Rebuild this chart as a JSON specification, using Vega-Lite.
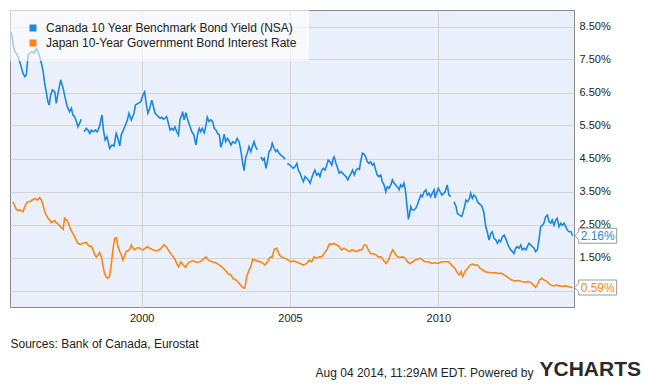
{
  "$schema": "https://vega.github.io/schema/vega-lite/v6.json",
  "width": 564,
  "height": 297,
  "autosize": {"type": "none"},
  "padding": {"left": 10, "top": 10, "right": 76, "bottom": 77},
  "background": "white",
  "title": {"text": "YCHARTS", "orient": "bottom", "anchor": "end", "frame": "group", "fontSize": 21, "fontWeight": "bold", "color": "#2a2a2a", "font": "Liberation Sans", "dx": 67, "dy": -23},
  "config": {
    "font": "Liberation Sans",
    "view": {"fill": "#EAF0FB", "stroke": "#8a8a8a", "strokeWidth": 1},
    "axis": {"labelOverlap": false},
    "axisY": {"labelOverlap": false},
    "legend": {
      "orient": "top-left", "offset": 0, "padding": 12, "symbolOffset": 5,
      "fillColor": "rgba(255,255,255,0.6)", "symbolType": "square", "symbolSize": 49,
      "labelFontSize": 12, "labelColor": "#222", "labelOffset": 7, "rowPadding": 3,
      "labelLimit": 400, "title": null
    }
  },
  "data": {"values": [
    {"series":"Canada","year":1995.60,"rate":8.34},{"series":"Canada","year":1995.66,"rate":7.99},{"series":"Canada","year":1995.72,"rate":7.74},{"series":"Canada","year":1995.77,"rate":7.69},{"series":"Canada","year":1995.83,"rate":7.59},{"series":"Canada","year":1995.92,"rate":7.33},{"series":"Canada","year":1996.00,"rate":7.08},{"series":"Canada","year":1996.06,"rate":6.98},{"series":"Canada","year":1996.11,"rate":7.03},{"series":"Canada","year":1996.17,"rate":7.64},{"series":"Canada","year":1996.22,"rate":7.69},{"series":"Canada","year":1996.30,"rate":7.74},{"series":"Canada","year":1996.37,"rate":7.69},{"series":"Canada","year":1996.45,"rate":7.84},{"series":"Canada","year":1996.50,"rate":7.74},{"series":"Canada","year":1996.56,"rate":7.59},{"series":"Canada","year":1996.62,"rate":7.38},{"series":"Canada","year":1996.67,"rate":7.18},{"series":"Canada","year":1996.73,"rate":6.78},{"series":"Canada","year":1996.78,"rate":6.52},{"series":"Canada","year":1996.84,"rate":6.22},{"series":"Canada","year":1996.88,"rate":6.12},{"series":"Canada","year":1996.93,"rate":6.42},{"series":"Canada","year":1996.99,"rate":6.58},{"series":"Canada","year":1997.07,"rate":6.52},{"series":"Canada","year":1997.12,"rate":6.17},{"series":"Canada","year":1997.18,"rate":6.48},{"series":"Canada","year":1997.27,"rate":6.88},{"series":"Canada","year":1997.35,"rate":6.63},{"series":"Canada","year":1997.40,"rate":6.42},{"series":"Canada","year":1997.49,"rate":6.07},{"series":"Canada","year":1997.57,"rate":5.92},{"series":"Canada","year":1997.63,"rate":6.02},{"series":"Canada","year":1997.68,"rate":5.82},{"series":"Canada","year":1997.74,"rate":5.77},{"series":"Canada","year":1997.80,"rate":5.62},{"series":"Canada","year":1997.85,"rate":5.46},{"series":"Canada","year":1997.91,"rate":5.57},{"series":"Canada","year":1997.96,"rate":5.69},{"series":"Canada","year":1998.02,"rate":null},{"series":"Canada","year":1998.06,"rate":5.31},{"series":"Canada","year":1998.13,"rate":5.41},{"series":"Canada","year":1998.19,"rate":5.36},{"series":"Canada","year":1998.25,"rate":5.26},{"series":"Canada","year":1998.30,"rate":5.36},{"series":"Canada","year":1998.36,"rate":5.31},{"series":"Canada","year":1998.44,"rate":5.36},{"series":"Canada","year":1998.50,"rate":5.31},{"series":"Canada","year":1998.58,"rate":5.48},{"series":"Canada","year":1998.66,"rate":5.82},{"series":"Canada","year":1998.71,"rate":5.36},{"series":"Canada","year":1998.77,"rate":5.06},{"series":"Canada","year":1998.83,"rate":5.16},{"series":"Canada","year":1998.92,"rate":4.81},{"series":"Canada","year":1999.00,"rate":4.91},{"series":"Canada","year":1999.07,"rate":4.88},{"series":"Canada","year":1999.14,"rate":5.26},{"series":"Canada","year":1999.20,"rate":5.11},{"series":"Canada","year":1999.26,"rate":4.88},{"series":"Canada","year":1999.31,"rate":5.21},{"series":"Canada","year":1999.43,"rate":5.46},{"series":"Canada","year":1999.52,"rate":5.67},{"series":"Canada","year":1999.57,"rate":5.87},{"series":"Canada","year":1999.65,"rate":5.67},{"series":"Canada","year":1999.74,"rate":5.87},{"series":"Canada","year":1999.79,"rate":6.12},{"series":"Canada","year":1999.88,"rate":6.17},{"series":"Canada","year":1999.97,"rate":6.22},{"series":"Canada","year":2000.04,"rate":6.42},{"series":"Canada","year":2000.10,"rate":6.52},{"series":"Canada","year":2000.16,"rate":6.12},{"series":"Canada","year":2000.21,"rate":5.87},{"series":"Canada","year":2000.27,"rate":6.02},{"series":"Canada","year":2000.34,"rate":6.27},{"series":"Canada","year":2000.45,"rate":5.87},{"series":"Canada","year":2000.51,"rate":5.82},{"series":"Canada","year":2000.56,"rate":5.77},{"series":"Canada","year":2000.62,"rate":5.72},{"series":"Canada","year":2000.68,"rate":5.75},{"series":"Canada","year":2000.73,"rate":5.69},{"series":"Canada","year":2000.79,"rate":5.72},{"series":"Canada","year":2000.84,"rate":5.77},{"series":"Canada","year":2000.90,"rate":5.57},{"series":"Canada","year":2000.96,"rate":5.36},{"series":"Canada","year":2001.01,"rate":5.41},{"series":"Canada","year":2001.07,"rate":5.36},{"series":"Canada","year":2001.12,"rate":5.46},{"series":"Canada","year":2001.18,"rate":5.31},{"series":"Canada","year":2001.24,"rate":5.21},{"series":"Canada","year":2001.29,"rate":5.67},{"series":"Canada","year":2001.35,"rate":5.82},{"series":"Canada","year":2001.38,"rate":5.92},{"series":"Canada","year":2001.43,"rate":5.67},{"series":"Canada","year":2001.49,"rate":5.89},{"series":"Canada","year":2001.55,"rate":5.67},{"series":"Canada","year":2001.61,"rate":5.52},{"series":"Canada","year":2001.69,"rate":5.31},{"series":"Canada","year":2001.76,"rate":5.21},{"series":"Canada","year":2001.83,"rate":4.91},{"series":"Canada","year":2001.88,"rate":5.21},{"series":"Canada","year":2001.94,"rate":5.41},{"series":"Canada","year":2001.99,"rate":5.31},{"series":"Canada","year":2002.04,"rate":5.41},{"series":"Canada","year":2002.11,"rate":5.28},{"series":"Canada","year":2002.17,"rate":5.52},{"series":"Canada","year":2002.21,"rate":5.75},{"series":"Canada","year":2002.27,"rate":5.62},{"series":"Canada","year":2002.33,"rate":5.67},{"series":"Canada","year":2002.39,"rate":5.62},{"series":"Canada","year":2002.45,"rate":5.41},{"series":"Canada","year":2002.51,"rate":5.36},{"series":"Canada","year":2002.56,"rate":5.26},{"series":"Canada","year":2002.62,"rate":5.21},{"series":"Canada","year":2002.67,"rate":4.84},{"series":"Canada","year":2002.73,"rate":5.01},{"series":"Canada","year":2002.78,"rate":5.24},{"series":"Canada","year":2002.83,"rate":5.01},{"series":"Canada","year":2002.89,"rate":5.11},{"series":"Canada","year":2002.94,"rate":5.04},{"series":"Canada","year":2003.01,"rate":4.91},{"series":"Canada","year":2003.07,"rate":5.01},{"series":"Canada","year":2003.15,"rate":4.96},{"series":"Canada","year":2003.22,"rate":5.11},{"series":"Canada","year":2003.28,"rate":5.01},{"series":"Canada","year":2003.34,"rate":4.76},{"series":"Canada","year":2003.39,"rate":4.45},{"series":"Canada","year":2003.45,"rate":4.13},{"series":"Canada","year":2003.51,"rate":4.55},{"series":"Canada","year":2003.56,"rate":4.66},{"series":"Canada","year":2003.62,"rate":4.86},{"series":"Canada","year":2003.68,"rate":4.71},{"series":"Canada","year":2003.73,"rate":4.86},{"series":"Canada","year":2003.79,"rate":5.01},{"series":"Canada","year":2003.84,"rate":4.86},{"series":"Canada","year":2003.90,"rate":4.76},{"series":"Canada","year":2003.96,"rate":null},{"series":"Canada","year":2004.02,"rate":4.55},{"series":"Canada","year":2004.08,"rate":4.45},{"series":"Canada","year":2004.13,"rate":4.51},{"series":"Canada","year":2004.19,"rate":4.20},{"series":"Canada","year":2004.24,"rate":4.40},{"series":"Canada","year":2004.29,"rate":4.71},{"series":"Canada","year":2004.35,"rate":4.76},{"series":"Canada","year":2004.40,"rate":4.96},{"series":"Canada","year":2004.46,"rate":4.81},{"series":"Canada","year":2004.52,"rate":4.71},{"series":"Canada","year":2004.57,"rate":4.76},{"series":"Canada","year":2004.63,"rate":4.66},{"series":"Canada","year":2004.69,"rate":4.61},{"series":"Canada","year":2004.77,"rate":4.55},{"series":"Canada","year":2004.83,"rate":4.48},{"series":"Canada","year":2004.87,"rate":null},{"series":"Canada","year":2004.91,"rate":4.35},{"series":"Canada","year":2005.00,"rate":4.30},{"series":"Canada","year":2005.06,"rate":4.25},{"series":"Canada","year":2005.11,"rate":4.20},{"series":"Canada","year":2005.17,"rate":4.25},{"series":"Canada","year":2005.23,"rate":4.35},{"series":"Canada","year":2005.28,"rate":4.15},{"series":"Canada","year":2005.34,"rate":4.05},{"series":"Canada","year":2005.40,"rate":3.90},{"series":"Canada","year":2005.45,"rate":3.80},{"series":"Canada","year":2005.51,"rate":3.95},{"series":"Canada","year":2005.56,"rate":3.90},{"series":"Canada","year":2005.62,"rate":3.85},{"series":"Canada","year":2005.68,"rate":3.75},{"series":"Canada","year":2005.73,"rate":3.90},{"series":"Canada","year":2005.79,"rate":4.05},{"series":"Canada","year":2005.84,"rate":4.15},{"series":"Canada","year":2005.90,"rate":4.00},{"series":"Canada","year":2005.96,"rate":4.05},{"series":"Canada","year":2006.01,"rate":3.95},{"series":"Canada","year":2006.07,"rate":4.15},{"series":"Canada","year":2006.12,"rate":4.20},{"series":"Canada","year":2006.18,"rate":4.15},{"series":"Canada","year":2006.24,"rate":4.30},{"series":"Canada","year":2006.29,"rate":4.45},{"series":"Canada","year":2006.35,"rate":4.40},{"series":"Canada","year":2006.41,"rate":4.30},{"series":"Canada","year":2006.46,"rate":4.51},{"series":"Canada","year":2006.49,"rate":4.55},{"series":"Canada","year":2006.55,"rate":4.35},{"series":"Canada","year":2006.61,"rate":4.20},{"series":"Canada","year":2006.66,"rate":4.05},{"series":"Canada","year":2006.72,"rate":4.10},{"series":"Canada","year":2006.78,"rate":4.05},{"series":"Canada","year":2006.83,"rate":4.00},{"series":"Canada","year":2006.89,"rate":3.95},{"series":"Canada","year":2006.95,"rate":3.85},{"series":"Canada","year":2007.00,"rate":3.95},{"series":"Canada","year":2007.06,"rate":4.05},{"series":"Canada","year":2007.11,"rate":4.15},{"series":"Canada","year":2007.17,"rate":4.00},{"series":"Canada","year":2007.23,"rate":4.15},{"series":"Canada","year":2007.28,"rate":4.20},{"series":"Canada","year":2007.34,"rate":4.17},{"series":"Canada","year":2007.38,"rate":4.40},{"series":"Canada","year":2007.44,"rate":4.66},{"series":"Canada","year":2007.50,"rate":4.63},{"series":"Canada","year":2007.55,"rate":4.55},{"series":"Canada","year":2007.61,"rate":4.40},{"series":"Canada","year":2007.66,"rate":4.35},{"series":"Canada","year":2007.72,"rate":4.40},{"series":"Canada","year":2007.78,"rate":4.30},{"series":"Canada","year":2007.83,"rate":4.35},{"series":"Canada","year":2007.89,"rate":4.15},{"series":"Canada","year":2007.94,"rate":4.00},{"series":"Canada","year":2008.00,"rate":3.95},{"series":"Canada","year":2008.06,"rate":4.00},{"series":"Canada","year":2008.11,"rate":3.80},{"series":"Canada","year":2008.17,"rate":3.70},{"series":"Canada","year":2008.23,"rate":3.49},{"series":"Canada","year":2008.28,"rate":3.64},{"series":"Canada","year":2008.34,"rate":3.60},{"series":"Canada","year":2008.40,"rate":3.70},{"series":"Canada","year":2008.45,"rate":3.85},{"series":"Canada","year":2008.51,"rate":3.75},{"series":"Canada","year":2008.56,"rate":3.70},{"series":"Canada","year":2008.62,"rate":3.64},{"series":"Canada","year":2008.68,"rate":3.55},{"series":"Canada","year":2008.73,"rate":3.70},{"series":"Canada","year":2008.79,"rate":3.64},{"series":"Canada","year":2008.84,"rate":3.75},{"series":"Canada","year":2008.89,"rate":3.55},{"series":"Canada","year":2008.94,"rate":3.09},{"series":"Canada","year":2008.99,"rate":2.69},{"series":"Canada","year":2009.02,"rate":2.74},{"series":"Canada","year":2009.07,"rate":3.04},{"series":"Canada","year":2009.12,"rate":2.94},{"series":"Canada","year":2009.18,"rate":2.94},{"series":"Canada","year":2009.24,"rate":2.99},{"series":"Canada","year":2009.29,"rate":3.09},{"series":"Canada","year":2009.35,"rate":3.24},{"series":"Canada","year":2009.41,"rate":3.39},{"series":"Canada","year":2009.46,"rate":3.34},{"series":"Canada","year":2009.52,"rate":3.49},{"series":"Canada","year":2009.58,"rate":3.55},{"series":"Canada","year":2009.63,"rate":3.39},{"series":"Canada","year":2009.69,"rate":3.45},{"series":"Canada","year":2009.74,"rate":3.34},{"series":"Canada","year":2009.80,"rate":3.45},{"series":"Canada","year":2009.86,"rate":3.55},{"series":"Canada","year":2009.89,"rate":3.30},{"series":"Canada","year":2010.00,"rate":3.60},{"series":"Canada","year":2010.12,"rate":3.39},{"series":"Canada","year":2010.23,"rate":3.49},{"series":"Canada","year":2010.30,"rate":3.70},{"series":"Canada","year":2010.36,"rate":3.39},{"series":"Canada","year":2010.42,"rate":3.34},{"series":"Canada","year":2010.47,"rate":null},{"series":"Canada","year":2010.53,"rate":3.19},{"series":"Canada","year":2010.60,"rate":3.04},{"series":"Canada","year":2010.64,"rate":2.84},{"series":"Canada","year":2010.71,"rate":2.79},{"series":"Canada","year":2010.79,"rate":2.74},{"series":"Canada","year":2010.84,"rate":2.89},{"series":"Canada","year":2010.90,"rate":3.09},{"series":"Canada","year":2010.93,"rate":3.24},{"series":"Canada","year":2010.99,"rate":3.19},{"series":"Canada","year":2011.05,"rate":3.29},{"series":"Canada","year":2011.09,"rate":3.45},{"series":"Canada","year":2011.15,"rate":3.29},{"series":"Canada","year":2011.20,"rate":3.39},{"series":"Canada","year":2011.26,"rate":3.34},{"series":"Canada","year":2011.32,"rate":3.19},{"series":"Canada","year":2011.37,"rate":3.14},{"series":"Canada","year":2011.43,"rate":3.09},{"series":"Canada","year":2011.48,"rate":3.04},{"series":"Canada","year":2011.54,"rate":2.84},{"series":"Canada","year":2011.60,"rate":2.43},{"series":"Canada","year":2011.65,"rate":2.28},{"series":"Canada","year":2011.71,"rate":2.03},{"series":"Canada","year":2011.77,"rate":2.23},{"series":"Canada","year":2011.82,"rate":2.28},{"series":"Canada","year":2011.88,"rate":2.08},{"series":"Canada","year":2011.94,"rate":2.03},{"series":"Canada","year":2011.99,"rate":1.93},{"series":"Canada","year":2012.05,"rate":2.03},{"series":"Canada","year":2012.10,"rate":1.98},{"series":"Canada","year":2012.16,"rate":2.13},{"series":"Canada","year":2012.22,"rate":2.18},{"series":"Canada","year":2012.27,"rate":2.08},{"series":"Canada","year":2012.33,"rate":1.93},{"series":"Canada","year":2012.38,"rate":1.83},{"series":"Canada","year":2012.44,"rate":1.73},{"series":"Canada","year":2012.50,"rate":1.68},{"series":"Canada","year":2012.55,"rate":1.62},{"series":"Canada","year":2012.61,"rate":1.78},{"series":"Canada","year":2012.66,"rate":1.83},{"series":"Canada","year":2012.72,"rate":1.78},{"series":"Canada","year":2012.78,"rate":1.88},{"series":"Canada","year":2012.83,"rate":1.73},{"series":"Canada","year":2012.89,"rate":1.78},{"series":"Canada","year":2012.95,"rate":1.73},{"series":"Canada","year":2013.00,"rate":1.83},{"series":"Canada","year":2013.06,"rate":1.93},{"series":"Canada","year":2013.12,"rate":1.88},{"series":"Canada","year":2013.17,"rate":1.83},{"series":"Canada","year":2013.23,"rate":1.78},{"series":"Canada","year":2013.28,"rate":1.68},{"series":"Canada","year":2013.34,"rate":1.73},{"series":"Canada","year":2013.40,"rate":2.08},{"series":"Canada","year":2013.45,"rate":2.43},{"series":"Canada","year":2013.51,"rate":2.48},{"series":"Canada","year":2013.56,"rate":2.54},{"series":"Canada","year":2013.62,"rate":2.74},{"series":"Canada","year":2013.68,"rate":2.79},{"series":"Canada","year":2013.73,"rate":2.59},{"series":"Canada","year":2013.79,"rate":2.54},{"series":"Canada","year":2013.84,"rate":2.64},{"series":"Canada","year":2013.90,"rate":2.48},{"series":"Canada","year":2013.96,"rate":2.64},{"series":"Canada","year":2014.01,"rate":2.69},{"series":"Canada","year":2014.07,"rate":2.43},{"series":"Canada","year":2014.13,"rate":2.54},{"series":"Canada","year":2014.18,"rate":2.48},{"series":"Canada","year":2014.24,"rate":2.54},{"series":"Canada","year":2014.30,"rate":2.43},{"series":"Canada","year":2014.35,"rate":2.33},{"series":"Canada","year":2014.41,"rate":2.28},{"series":"Canada","year":2014.47,"rate":2.28},{"series":"Canada","year":2014.53,"rate":2.16},
    {"series":"Japan","year":1995.66,"rate":3.19},{"series":"Japan","year":1995.72,"rate":3.06},{"series":"Japan","year":1995.77,"rate":2.96},{"series":"Japan","year":1995.83,"rate":2.92},{"series":"Japan","year":1995.89,"rate":2.94},{"series":"Japan","year":1995.94,"rate":2.92},{"series":"Japan","year":1996.00,"rate":2.89},{"series":"Japan","year":1996.06,"rate":3.04},{"series":"Japan","year":1996.11,"rate":3.14},{"series":"Japan","year":1996.17,"rate":3.19},{"series":"Japan","year":1996.22,"rate":3.19},{"series":"Japan","year":1996.28,"rate":3.22},{"series":"Japan","year":1996.34,"rate":3.26},{"series":"Japan","year":1996.41,"rate":3.29},{"series":"Japan","year":1996.48,"rate":3.24},{"series":"Japan","year":1996.56,"rate":3.32},{"series":"Japan","year":1996.62,"rate":3.24},{"series":"Japan","year":1996.67,"rate":3.09},{"series":"Japan","year":1996.73,"rate":2.89},{"series":"Japan","year":1996.78,"rate":2.79},{"series":"Japan","year":1996.84,"rate":2.69},{"series":"Japan","year":1996.90,"rate":2.64},{"series":"Japan","year":1996.95,"rate":2.55},{"series":"Japan","year":1997.01,"rate":2.59},{"series":"Japan","year":1997.07,"rate":2.62},{"series":"Japan","year":1997.12,"rate":2.55},{"series":"Japan","year":1997.18,"rate":2.52},{"series":"Japan","year":1997.24,"rate":2.45},{"series":"Japan","year":1997.29,"rate":2.41},{"series":"Japan","year":1997.35,"rate":2.35},{"series":"Japan","year":1997.40,"rate":2.69},{"series":"Japan","year":1997.46,"rate":2.64},{"series":"Japan","year":1997.53,"rate":2.54},{"series":"Japan","year":1997.57,"rate":2.43},{"series":"Japan","year":1997.63,"rate":2.31},{"series":"Japan","year":1997.68,"rate":2.23},{"series":"Japan","year":1997.74,"rate":2.13},{"series":"Japan","year":1997.80,"rate":2.00},{"series":"Japan","year":1997.85,"rate":1.93},{"series":"Japan","year":1997.91,"rate":1.90},{"series":"Japan","year":1997.96,"rate":1.90},{"series":"Japan","year":1998.02,"rate":1.93},{"series":"Japan","year":1998.08,"rate":1.95},{"series":"Japan","year":1998.13,"rate":1.96},{"series":"Japan","year":1998.19,"rate":1.88},{"series":"Japan","year":1998.25,"rate":1.83},{"series":"Japan","year":1998.30,"rate":1.85},{"series":"Japan","year":1998.36,"rate":1.73},{"series":"Japan","year":1998.42,"rate":1.58},{"series":"Japan","year":1998.47,"rate":1.51},{"series":"Japan","year":1998.53,"rate":1.58},{"series":"Japan","year":1998.58,"rate":1.65},{"series":"Japan","year":1998.64,"rate":1.52},{"series":"Japan","year":1998.70,"rate":1.22},{"series":"Japan","year":1998.75,"rate":1.00},{"series":"Japan","year":1998.81,"rate":0.90},{"series":"Japan","year":1998.86,"rate":0.87},{"series":"Japan","year":1998.92,"rate":0.94},{"series":"Japan","year":1998.98,"rate":1.32},{"series":"Japan","year":1999.03,"rate":1.73},{"series":"Japan","year":1999.09,"rate":2.08},{"series":"Japan","year":1999.14,"rate":2.10},{"series":"Japan","year":1999.20,"rate":1.83},{"series":"Japan","year":1999.26,"rate":1.68},{"series":"Japan","year":1999.31,"rate":1.58},{"series":"Japan","year":1999.37,"rate":1.42},{"series":"Japan","year":1999.43,"rate":1.58},{"series":"Japan","year":1999.48,"rate":1.68},{"series":"Japan","year":1999.54,"rate":1.71},{"series":"Japan","year":1999.60,"rate":1.75},{"series":"Japan","year":1999.65,"rate":1.88},{"series":"Japan","year":1999.71,"rate":1.78},{"series":"Japan","year":1999.76,"rate":1.73},{"series":"Japan","year":1999.82,"rate":1.78},{"series":"Japan","year":1999.90,"rate":1.80},{"series":"Japan","year":1999.97,"rate":1.75},{"series":"Japan","year":2000.04,"rate":1.73},{"series":"Japan","year":2000.12,"rate":1.78},{"series":"Japan","year":2000.19,"rate":1.83},{"series":"Japan","year":2000.27,"rate":1.78},{"series":"Japan","year":2000.39,"rate":1.73},{"series":"Japan","year":2000.51,"rate":1.70},{"series":"Japan","year":2000.62,"rate":1.75},{"series":"Japan","year":2000.75,"rate":1.88},{"series":"Japan","year":2000.84,"rate":1.81},{"series":"Japan","year":2000.93,"rate":1.68},{"series":"Japan","year":2001.01,"rate":1.58},{"series":"Japan","year":2001.12,"rate":1.45},{"series":"Japan","year":2001.18,"rate":1.32},{"series":"Japan","year":2001.24,"rate":1.22},{"series":"Japan","year":2001.32,"rate":1.37},{"series":"Japan","year":2001.40,"rate":1.27},{"series":"Japan","year":2001.48,"rate":1.20},{"series":"Japan","year":2001.55,"rate":1.32},{"series":"Japan","year":2001.63,"rate":1.37},{"series":"Japan","year":2001.74,"rate":1.40},{"series":"Japan","year":2001.85,"rate":1.35},{"series":"Japan","year":2001.97,"rate":1.37},{"series":"Japan","year":2002.08,"rate":1.45},{"series":"Japan","year":2002.16,"rate":1.52},{"series":"Japan","year":2002.25,"rate":1.42},{"series":"Japan","year":2002.36,"rate":1.37},{"series":"Japan","year":2002.47,"rate":1.35},{"series":"Japan","year":2002.58,"rate":1.30},{"series":"Japan","year":2002.70,"rate":1.22},{"series":"Japan","year":2002.81,"rate":1.12},{"series":"Japan","year":2002.92,"rate":1.00},{"series":"Japan","year":2003.01,"rate":0.97},{"series":"Japan","year":2003.09,"rate":0.85},{"series":"Japan","year":2003.18,"rate":0.82},{"series":"Japan","year":2003.26,"rate":0.74},{"series":"Japan","year":2003.34,"rate":0.66},{"series":"Japan","year":2003.41,"rate":0.58},{"series":"Japan","year":2003.48,"rate":0.57},{"series":"Japan","year":2003.54,"rate":0.92},{"series":"Japan","year":2003.62,"rate":1.12},{"series":"Japan","year":2003.68,"rate":1.22},{"series":"Japan","year":2003.74,"rate":1.45},{"series":"Japan","year":2003.82,"rate":1.42},{"series":"Japan","year":2003.93,"rate":1.39},{"series":"Japan","year":2004.05,"rate":1.35},{"series":"Japan","year":2004.16,"rate":1.27},{"series":"Japan","year":2004.24,"rate":1.37},{"series":"Japan","year":2004.33,"rate":1.51},{"series":"Japan","year":2004.40,"rate":1.51},{"series":"Japan","year":2004.47,"rate":1.75},{"series":"Japan","year":2004.55,"rate":1.78},{"series":"Japan","year":2004.64,"rate":1.58},{"series":"Japan","year":2004.72,"rate":1.51},{"series":"Japan","year":2004.83,"rate":1.48},{"series":"Japan","year":2004.94,"rate":1.42},{"series":"Japan","year":2005.02,"rate":1.37},{"series":"Japan","year":2005.11,"rate":1.40},{"series":"Japan","year":2005.34,"rate":1.32},{"series":"Japan","year":2005.45,"rate":1.27},{"series":"Japan","year":2005.56,"rate":1.32},{"series":"Japan","year":2005.65,"rate":1.42},{"series":"Japan","year":2005.73,"rate":1.37},{"series":"Japan","year":2005.81,"rate":1.52},{"series":"Japan","year":2005.90,"rate":1.48},{"series":"Japan","year":2005.99,"rate":1.52},{"series":"Japan","year":2006.07,"rate":1.52},{"series":"Japan","year":2006.15,"rate":1.62},{"series":"Japan","year":2006.24,"rate":1.73},{"series":"Japan","year":2006.33,"rate":1.91},{"series":"Japan","year":2006.41,"rate":1.90},{"series":"Japan","year":2006.48,"rate":1.93},{"series":"Japan","year":2006.57,"rate":1.88},{"series":"Japan","year":2006.66,"rate":1.83},{"series":"Japan","year":2006.74,"rate":1.73},{"series":"Japan","year":2006.82,"rate":1.78},{"series":"Japan","year":2006.91,"rate":1.73},{"series":"Japan","year":2007.00,"rate":1.68},{"series":"Japan","year":2007.08,"rate":1.73},{"series":"Japan","year":2007.16,"rate":1.71},{"series":"Japan","year":2007.25,"rate":1.68},{"series":"Japan","year":2007.34,"rate":1.73},{"series":"Japan","year":2007.42,"rate":1.73},{"series":"Japan","year":2007.50,"rate":1.88},{"series":"Japan","year":2007.56,"rate":1.88},{"series":"Japan","year":2007.64,"rate":1.73},{"series":"Japan","year":2007.72,"rate":1.62},{"series":"Japan","year":2007.81,"rate":1.61},{"series":"Japan","year":2007.90,"rate":1.58},{"series":"Japan","year":2007.98,"rate":1.52},{"series":"Japan","year":2008.06,"rate":1.52},{"series":"Japan","year":2008.15,"rate":1.42},{"series":"Japan","year":2008.24,"rate":1.32},{"series":"Japan","year":2008.32,"rate":1.42},{"series":"Japan","year":2008.40,"rate":1.62},{"series":"Japan","year":2008.46,"rate":1.73},{"series":"Japan","year":2008.54,"rate":1.62},{"series":"Japan","year":2008.62,"rate":1.52},{"series":"Japan","year":2008.71,"rate":1.51},{"series":"Japan","year":2008.80,"rate":1.52},{"series":"Japan","year":2008.88,"rate":1.48},{"series":"Japan","year":2008.96,"rate":1.37},{"series":"Japan","year":2009.05,"rate":1.32},{"series":"Japan","year":2009.14,"rate":1.37},{"series":"Japan","year":2009.21,"rate":1.42},{"series":"Japan","year":2009.29,"rate":1.45},{"series":"Japan","year":2009.38,"rate":1.48},{"series":"Japan","year":2009.47,"rate":1.42},{"series":"Japan","year":2009.55,"rate":1.37},{"series":"Japan","year":2009.66,"rate":1.37},{"series":"Japan","year":2009.78,"rate":1.32},{"series":"Japan","year":2009.89,"rate":1.34},{"series":"Japan","year":2010.00,"rate":1.32},{"series":"Japan","year":2010.12,"rate":1.37},{"series":"Japan","year":2010.23,"rate":1.37},{"series":"Japan","year":2010.34,"rate":1.37},{"series":"Japan","year":2010.45,"rate":1.27},{"series":"Japan","year":2010.56,"rate":1.17},{"series":"Japan","year":2010.64,"rate":1.04},{"series":"Japan","year":2010.71,"rate":0.97},{"series":"Japan","year":2010.77,"rate":1.07},{"series":"Japan","year":2010.82,"rate":0.92},{"series":"Japan","year":2010.90,"rate":1.07},{"series":"Japan","year":2010.98,"rate":1.17},{"series":"Japan","year":2011.07,"rate":1.27},{"series":"Japan","year":2011.15,"rate":1.30},{"series":"Japan","year":2011.24,"rate":1.27},{"series":"Japan","year":2011.32,"rate":1.27},{"series":"Japan","year":2011.41,"rate":1.17},{"series":"Japan","year":2011.50,"rate":1.12},{"series":"Japan","year":2011.58,"rate":1.07},{"series":"Japan","year":2011.69,"rate":1.05},{"series":"Japan","year":2011.80,"rate":1.04},{"series":"Japan","year":2011.91,"rate":1.04},{"series":"Japan","year":2012.02,"rate":1.02},{"series":"Japan","year":2012.14,"rate":1.02},{"series":"Japan","year":2012.22,"rate":0.97},{"series":"Japan","year":2012.31,"rate":0.92},{"series":"Japan","year":2012.39,"rate":0.87},{"series":"Japan","year":2012.47,"rate":0.82},{"series":"Japan","year":2012.59,"rate":0.79},{"series":"Japan","year":2012.70,"rate":0.80},{"series":"Japan","year":2012.81,"rate":0.77},{"series":"Japan","year":2012.92,"rate":0.75},{"series":"Japan","year":2013.04,"rate":0.77},{"series":"Japan","year":2013.12,"rate":0.74},{"series":"Japan","year":2013.20,"rate":0.67},{"series":"Japan","year":2013.28,"rate":0.60},{"series":"Japan","year":2013.34,"rate":0.67},{"series":"Japan","year":2013.41,"rate":0.82},{"series":"Japan","year":2013.49,"rate":0.87},{"series":"Japan","year":2013.56,"rate":0.82},{"series":"Japan","year":2013.66,"rate":0.77},{"series":"Japan","year":2013.74,"rate":0.70},{"series":"Japan","year":2013.82,"rate":0.65},{"series":"Japan","year":2013.90,"rate":0.64},{"series":"Japan","year":2013.99,"rate":0.67},{"series":"Japan","year":2014.07,"rate":0.64},{"series":"Japan","year":2014.16,"rate":0.62},{"series":"Japan","year":2014.27,"rate":0.64},{"series":"Japan","year":2014.38,"rate":0.62},{"series":"Japan","year":2014.47,"rate":0.60},{"series":"Japan","year":2014.53,"rate":0.59}
  ]},
  "encoding": {
    "x": {"field": "year", "type": "quantitative",
      "scale": {"domain": [1995.56, 2014.575], "nice": false, "zero": false},
      "axis": {"orient": "bottom", "values": [2000, 2005, 2010], "format": "d", "grid": true, "gridColor": "#d4d4d4", "ticks": false, "domain": false,
        "labelFontSize": 11, "labelColor": "#222", "labelPadding": 5, "labelFont": "Liberation Sans",
        "title": "Sources: Bank of Canada, Eurostat", "titleX": 0, "titleY": 40, "titleAlign": "left", "titleAnchor": "start", "titleBaseline": "alphabetic",
        "titleFontSize": 12, "titleFontWeight": "normal", "titleColor": "#222", "titleFont": "Liberation Sans"}},
    "y": {"field": "rate", "type": "quantitative",
      "scale": {"domain": [0, 9], "nice": false},
      "axis": {"orient": "right", "values": [0.5, 1.5, 2.5, 3.5, 4.5, 5.5, 6.5, 7.5, 8.5], "labelExpr": "format(datum.value, '.2f') + '%'", "labelOverlap": false, "labelBound": false, "labelFlush": false,
        "grid": true, "gridColor": "#d4d4d4", "ticks": false, "domain": false, "labelFontSize": 11, "labelColor": "#222", "labelPadding": 5, "labelFont": "Liberation Sans",
        "title": "Aug 04 2014, 11:29AM EDT.  Powered by", "titleAngle": 0, "titleX": -41, "titleY": 366, "titleAlign": "right", "titleBaseline": "alphabetic",
        "titleFontSize": 12, "titleFontWeight": "normal", "titleColor": "#222", "titleFont": "Liberation Sans"}}
  },
  "layer": [
    {
      "mark": {"type": "line", "strokeWidth": 1.6, "invalid": "break-paths-filter-domains"},
      "encoding": {
        "color": {"field": "series", "type": "nominal",
          "scale": {"domain": ["Canada", "Japan"], "range": ["#1b87e0", "#ff8512"]},
          "legend": {"labelExpr": "datum.label == 'Canada' ? 'Canada 10 Year Benchmark Bond Yield (NSA)' : 'Japan 10-Year Government Bond Interest Rate'",
            "encode": {"symbols": {"update": {"fill": {"scale": "color", "field": "value"}, "strokeWidth": {"value": 0}}}}}}
      }
    },
    {
      "transform": [
        {"joinaggregate": [{"op": "max", "field": "year", "as": "lastYear"}], "groupby": ["series"]},
        {"filter": "datum.year == datum.lastYear"}
      ],
      "mark": {"type": "point", "shape": "M2,0L6,-4L6,-7.5L44,-7.5L44,7.5L6,7.5L6,4Z", "size": 4, "filled": true, "fill": "white", "stroke": "#9a9a9a", "strokeWidth": 1, "opacity": 1}
    },
    {
      "transform": [
        {"joinaggregate": [{"op": "max", "field": "year", "as": "lastYear"}], "groupby": ["series"]},
        {"filter": "datum.year == datum.lastYear"},
        {"calculate": "format(datum.rate, '.2f') + '%'", "as": "label"}
      ],
      "mark": {"type": "text", "dx": 25, "align": "center", "baseline": "middle", "fontSize": 12, "font": "Liberation Sans"},
      "encoding": {
        "text": {"field": "label"},
        "color": {"field": "series", "type": "nominal", "legend": null}
      }
    }
  ]
}
